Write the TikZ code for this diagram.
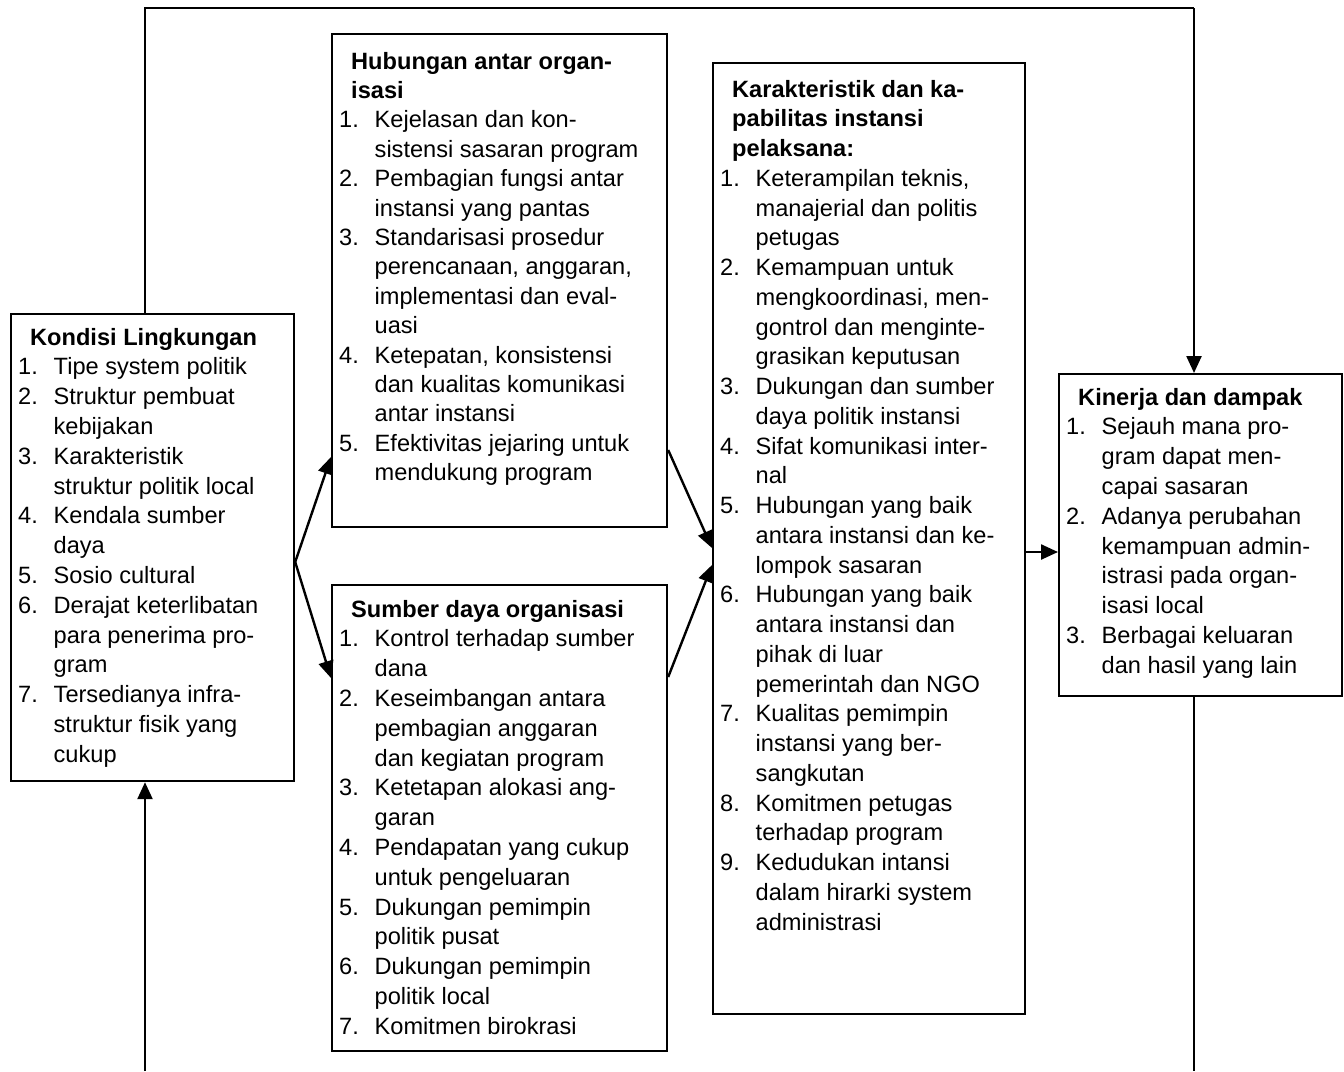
\documentclass[tikz,border=0pt]{standalone}
\usepackage{fontspec}
\setmainfont{Liberation Sans}
\usetikzlibrary{arrows.meta}
\newcommand\boxtext[2]{\parbox[t]{330pt}{\fontsize{23.6pt}{#1}\selectfont\parindent=0pt\rightskip=0pt plus 1fil\parfillskip=0pt plus 1fil #2}}
\newcommand\hd[1]{{\leftskip=12pt\bfseries #1\par}}
\newcommand\li[2]{\par\hangindent=35.5pt\hangafter=1\noindent\makebox[35.5pt][l]{#1}#2\par}
\begin{document}
\begin{tikzpicture}[x=1pt,y=-1pt,
  box/.style={draw=black,line width=2.2pt,inner sep=0pt,anchor=north west},
  txt/.style={inner sep=0pt,anchor=base west},
  conn/.style={draw=black,line width=2.4pt},
  arr/.style={conn,-{Triangle[length=17pt,width=15pt]}}]
\useasboundingbox (0,0) rectangle (1344,1071);
% boxes
\node[box,minimum width=283pt,minimum height=467pt] (box1) at (10,313) {};
\node[box,minimum width=335pt,minimum height=493pt] (box2) at (331,33) {};
\node[box,minimum width=335pt,minimum height=466pt] (box3) at (331,584) {};
\node[box,minimum width=312pt,minimum height=951pt] (box4) at (712,62) {};
\node[box,minimum width=283pt,minimum height=322pt] (box5) at (1058,373) {};
% texts
\node[txt] (t1) at (18,345) {\boxtext{29.8pt}{%
\hd{Kondisi Lingkungan}
\li{1.}{Tipe system politik}
\li{2.}{Struktur pembuat\\kebijakan}
\li{3.}{Karakteristik\\struktur politik local}
\li{4.}{Kendala sumber\\daya}
\li{5.}{Sosio cultural}
\li{6.}{Derajat keterlibatan\\para penerima pro-\\gram}
\li{7.}{Tersedianya infra-\\struktur fisik yang\\cukup}}};
\node[txt] (t2) at (339,69) {\boxtext{29.4pt}{%
\hd{Hubungan antar organ-\\isasi}
\li{1.}{Kejelasan dan kon-\\sistensi sasaran program}
\li{2.}{Pembagian fungsi antar\\instansi yang pantas}
\li{3.}{Standarisasi prosedur\\perencanaan, anggaran,\\implementasi dan eval-\\uasi}
\li{4.}{Ketepatan, konsistensi\\dan kualitas komunikasi\\antar instansi}
\li{5.}{Efektivitas jejaring untuk\\mendukung program}}};
\node[txt] (t3) at (339,617) {\boxtext{29.8pt}{%
\hd{Sumber daya organisasi}
\li{1.}{Kontrol terhadap sumber\\dana}
\li{2.}{Keseimbangan antara\\pembagian anggaran\\dan kegiatan program}
\li{3.}{Ketetapan alokasi ang-\\garan}
\li{4.}{Pendapatan yang cukup\\untuk pengeluaran}
\li{5.}{Dukungan pemimpin\\politik pusat}
\li{6.}{Dukungan pemimpin\\politik local}
\li{7.}{Komitmen birokrasi}}};
\node[txt] (t4) at (720,97) {\boxtext{29.75pt}{%
\hd{Karakteristik dan ka-\\pabilitas instansi\\pelaksana:}
\li{1.}{Keterampilan teknis,\\manajerial dan politis\\petugas}
\li{2.}{Kemampuan untuk\\mengkoordinasi, men-\\gontrol dan menginte-\\grasikan keputusan}
\li{3.}{Dukungan dan sumber\\daya politik instansi}
\li{4.}{Sifat komunikasi inter-\\nal}
\li{5.}{Hubungan yang baik\\antara instansi dan ke-\\lompok sasaran}
\li{6.}{Hubungan yang baik\\antara instansi dan\\pihak di luar\\pemerintah dan NGO}
\li{7.}{Kualitas pemimpin\\instansi yang ber-\\sangkutan}
\li{8.}{Komitmen petugas\\terhadap program}
\li{9.}{Kedudukan intansi\\dalam hirarki system\\administrasi}}};
\node[txt] (t5) at (1066,405) {\boxtext{29.8pt}{%
\hd{Kinerja dan dampak}
\li{1.}{Sejauh mana pro-\\gram dapat men-\\capai sasaran}
\li{2.}{Adanya perubahan\\kemampuan admin-\\istrasi pada organ-\\isasi local}
\li{3.}{Berbagai keluaran\\dan hasil yang lain}}};
% connector points
\coordinate (tl) at (145,8);
\coordinate (tr) at (1194,8);
\coordinate (bl) at (145,1071);
\coordinate (br) at (1194,1071);
\coordinate (a0) at (293,562);
\coordinate (a1) at (331,457);
\coordinate (a2) at (331,678);
\coordinate (b1) at (666,450);
\coordinate (b2) at (712,548);
\coordinate (c1) at (666,677);
\coordinate (c2) at (712,565);
\coordinate (d1) at (1024,552);
\coordinate (d2) at (1058,552);
% connectors
\draw[conn] (box1.north -| tl) -- (tl) -- (tr);
\draw[arr] (tr) -- (box5.north -| tr);
\draw[conn] (box5.south -| br) -- (br);
\draw[arr] (bl) -- (box1.south -| bl);
\draw[arr] (box1.east |- a0) -- (box2.west |- a1);
\draw[arr] (box1.east |- a0) -- (box3.west |- a2);
\draw[arr] (box2.east |- b1) -- (box4.west |- b2);
\draw[arr] (box3.east |- c1) -- (box4.west |- c2);
\draw[arr] (box4.east |- d1) -- (box5.west |- d2);
\end{tikzpicture}
\end{document}
